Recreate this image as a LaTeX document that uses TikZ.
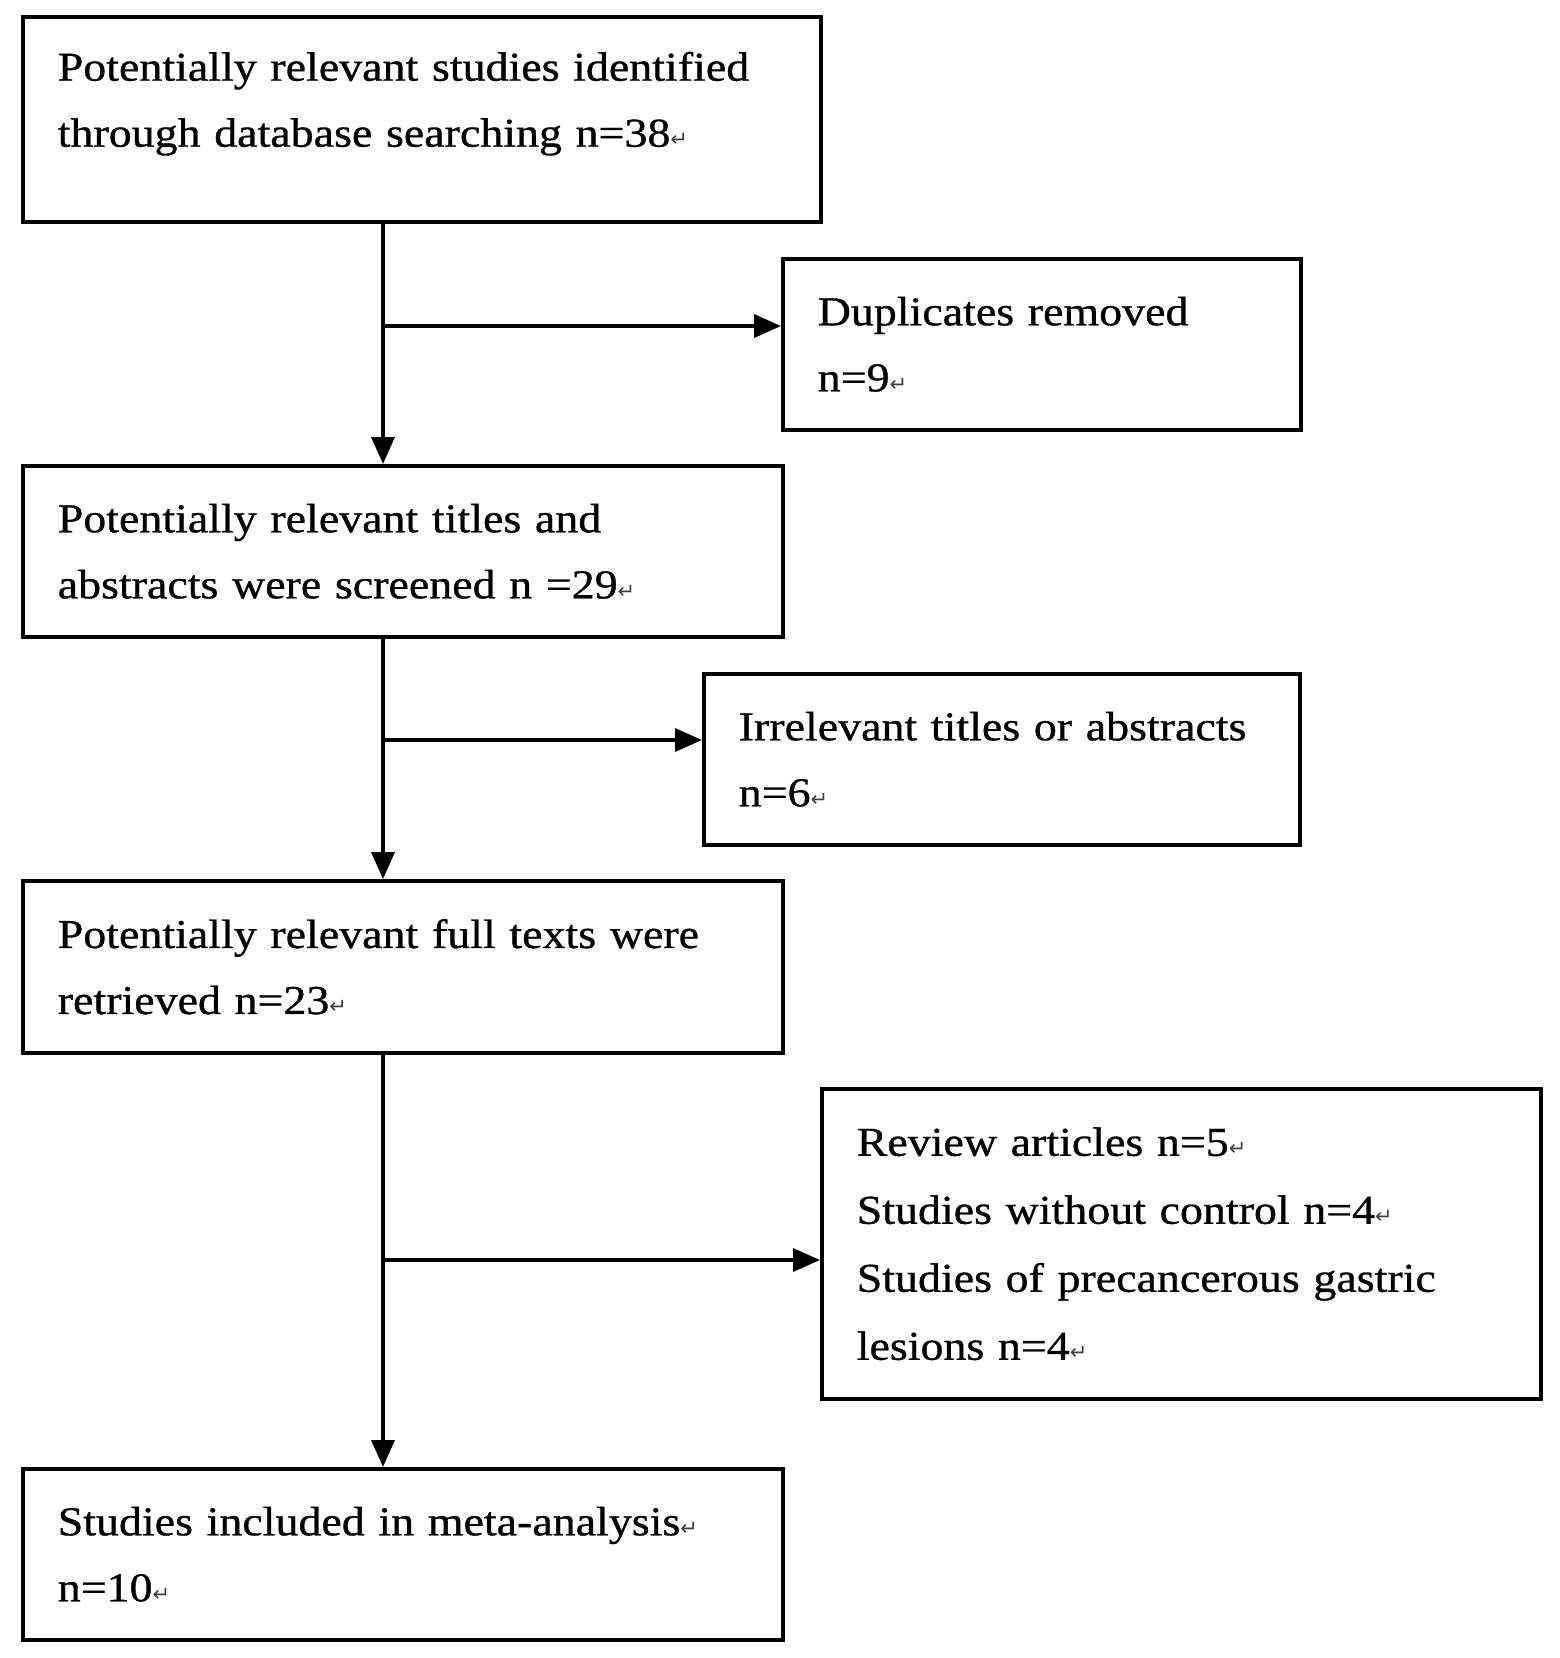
\documentclass[tikz,border=0pt]{standalone}
\usepackage{fontspec}
\setmainfont{Liberation Serif}[FakeStretch=1.12,FakeBold=0.8]
\newfontfamily\symf{DejaVu Sans}
\usetikzlibrary{arrows.meta}
\newcommand\ret{{\symf\fontsize{21}{21}\selectfont\textcolor{black!75}{↵}}}
\tikzset{
  box/.style={draw, line width=3.5pt, anchor=north west, inner xsep=35pt, inner ysep=0pt,
    align=left, font=\fontsize{41}{66}\selectfont},
  flow/.style={line width=3.5pt, -{Triangle[length=27pt,width=23pt]}}
}
\begin{document}
\begin{tikzpicture}[x=1pt,y=-1pt]
\useasboundingbox (0,0) rectangle (1559,1658);
\node[box, text width=728pt, minimum height=205pt] (b1) at (21,15)
  {Potentially relevant studies identified\\through database searching n=38\ret\rule[-40pt]{0pt}{0pt}};
\node[box, text width=448pt, minimum height=171pt] (b2) at (781,257)
  {Duplicates removed\\n=9\ret};
\node[box, text width=690pt, minimum height=171pt] (b3) at (21,464)
  {Potentially relevant titles and\\abstracts were screened n =29\ret};
\node[box, text width=526pt, minimum height=171pt] (b4) at (702,672)
  {Irrelevant titles or abstracts\\n=6\ret};
\node[box, text width=690pt, minimum height=172pt] (b5) at (21,879)
  {Potentially relevant full texts were\\retrieved n=23\ret};
\node[box, text width=649pt, minimum height=310pt, font=\fontsize{41}{68}\selectfont] (b6) at (820,1087)
  {Review articles n=5\ret\\Studies without control n=4\ret\\Studies of precancerous gastric\\lesions n=4\ret};
\node[box, text width=690pt, minimum height=171pt] (b7) at (21,1467)
  {Studies included in meta-analysis\ret\\n=10\ret};
\coordinate (j1) at (383,326);
\coordinate (j2) at (383,740);
\coordinate (j3) at (383,1260);
\draw[flow] (b1.south -| j1) -- (b3.north -| j1);
\draw[flow] (b3.south -| j2) -- (b5.north -| j2);
\draw[flow] (b5.south -| j3) -- (b7.north -| j3);
\draw[flow] (j1) -- (j1 -| b2.west);
\draw[flow] (j2) -- (j2 -| b4.west);
\draw[flow] (j3) -- (j3 -| b6.west);
\end{tikzpicture}
\end{document}
